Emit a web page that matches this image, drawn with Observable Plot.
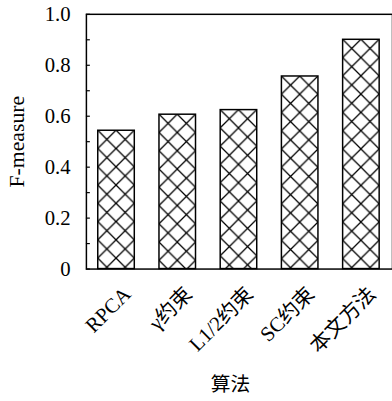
<!DOCTYPE html>
<html><head><meta charset="utf-8">
<script src="https://cdn.jsdelivr.net/npm/d3@7"></script>
<script src="https://cdn.jsdelivr.net/npm/@observablehq/plot@0.6"></script>
<style>
html,body{margin:0;padding:0;background:#fff;overflow:hidden;width:392px;height:401px}
</style>
</head><body><div id="chart"></div>
<script>
const methods = ["RPCA", "γ约束", "L1/2约束", "SC约束", "本文方法"];
const fMeasure = [0.543, 0.606, 0.624, 0.756, 0.900];
const yTicks = [0, 0.2, 0.4, 0.6, 0.8, 1.0];
const yMinorTicks = [0, 0.1, 0.2, 0.3, 0.4, 0.5, 0.6, 0.7, 0.8, 0.9, 1.0];
const xLabel = "算法";
const yLabel = "F-measure";

const data = methods.map((m, i) => ({method: m, value: fMeasure[i]}));
const W = 397, ML = 87;
const FONT = "'Liberation Serif', 'Times New Roman', 'Noto Sans CJK SC', serif";

const chart = Plot.plot({
  width: W, height: 401,
  marginLeft: ML, marginRight: 0, marginTop: 14, marginBottom: 129,
  style: {fontFamily: FONT, fontSize: "20px", color: "#000", background: "#fff", overflow: "visible"},
  x: {domain: methods, paddingInner: 0.4, paddingOuter: 0.2},
  y: {domain: [0, 1]},
  marks: [
    Plot.barY(data, {x: "method", y: "value", fill: "#fff", stroke: "#000", strokeWidth: 1.5}),
    Plot.tickY(yMinorTicks, {y: d => d, insetRight: W - ML - 4, stroke: "#000", strokeWidth: 1.2}),
    Plot.axisY({ticks: yTicks, tickSize: 0, tickPadding: 16, tickFormat: d => d === 0 ? "0" : d.toFixed(1), label: null, fontSize: 21}),
    Plot.axisX({tickSize: 0, tickRotate: -45, tickPadding: 22, dx: 11, label: null, fontSize: 21}),
    Plot.frame({stroke: "#000", strokeWidth: 1.5}),
    Plot.text([yLabel], {frameAnchor: "left", textAnchor: "middle", lineAnchor: "middle", dx: -70, rotate: -90, fontSize: 22}),
    Plot.text([xLabel], {frameAnchor: "bottom", lineAnchor: "middle", dy: 117, dx: -9, fontSize: 20})
  ]
});
chart.setAttribute("font-family", FONT);
chart.querySelectorAll("text").forEach(t => t.style.fontFamily = FONT);

// cross-hatch fill anchored at each bar's top-left corner
const ns = "http://www.w3.org/2000/svg";
const defs = document.createElementNS(ns, "defs");
chart.insertBefore(defs, chart.firstChild);
chart.querySelectorAll("g[aria-label='bar'] rect").forEach((r, i) => {
  const x = +r.getAttribute("x"), y = +r.getAttribute("y"), w = +r.getAttribute("width");
  const t = w / 2;
  const p = document.createElementNS(ns, "pattern");
  p.setAttribute("id", "hatch" + i);
  p.setAttribute("patternUnits", "userSpaceOnUse");
  p.setAttribute("x", x); p.setAttribute("y", y);
  p.setAttribute("width", t); p.setAttribute("height", t);
  const bg = document.createElementNS(ns, "rect");
  bg.setAttribute("width", t); bg.setAttribute("height", t); bg.setAttribute("fill", "#fff");
  p.appendChild(bg);
  const path = document.createElementNS(ns, "path");
  path.setAttribute("d", `M0,0L${t},${t}M${t},0L0,${t}`);
  path.setAttribute("stroke", "#000"); path.setAttribute("stroke-width", "1.3"); path.setAttribute("fill", "none");
  p.appendChild(path);
  defs.appendChild(p);
  r.setAttribute("fill", `url(#hatch${i})`);
});
document.getElementById("chart").appendChild(chart);
</script>
</body></html>
